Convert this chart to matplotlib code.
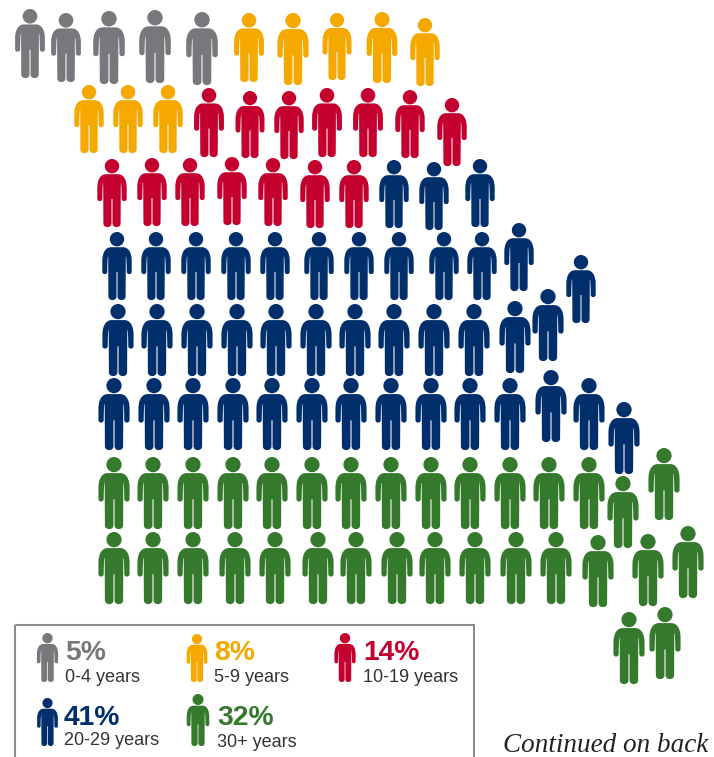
import matplotlib
matplotlib.use("Agg")
import matplotlib.pyplot as plt
from matplotlib.path import Path
from matplotlib.patches import PathPatch, Rectangle
from matplotlib.transforms import Affine2D

# Age groups with their shares
ages = ["0-4 years", "5-9 years", "10-19 years", "20-29 years", "30+ years"]
shares = [5, 8, 14, 41, 32]
colors = ["#77787b", "#f5a800", "#c4002f", "#002f6c", "#357a2c"]

# Figures per group: head centre x, head top y, foot y
gray_x = [30, 66, 109, 155, 202]
gray_top = [9, 13, 11, 10, 12]
gray_bot = [78, 82, 84, 83, 85]

orange_x = [249, 293, 337, 382, 425, 89, 128, 168]
orange_top = [13, 13, 13, 12, 18, 85, 85, 85]
orange_bot = [82, 85, 80, 83, 86, 153, 153, 153]

red_x = [209, 250, 289, 327, 368, 410, 452, 112, 152, 190, 232, 273, 315, 354]
red_top = [88, 91, 91, 88, 88, 90, 98, 159, 158, 158, 157, 158, 160, 160]
red_bot = [157, 158, 159, 157, 157, 158, 166, 227, 226, 226, 225, 226, 228, 228]

navy_x = [394, 434, 480,
          117, 156, 196, 236, 275, 319, 359, 399, 444, 482, 519, 581,
          118, 157, 197, 237, 276, 316, 355, 394, 434, 474, 515, 548,
          114, 154, 193, 233, 272, 312, 351, 391, 431, 470, 510, 551, 589, 624]
navy_top = [160, 162, 159,
            232, 232, 232, 232, 232, 232, 232, 232, 232, 232, 223, 255,
            304, 304, 304, 304, 304, 304, 304, 304, 304, 304, 301, 289,
            378, 378, 378, 378, 378, 378, 378, 378, 378, 378, 378, 370, 378, 402]
navy_bot = [228, 230, 227,
            300, 300, 300, 300, 300, 300, 300, 300, 300, 300, 291, 323,
            376, 376, 376, 376, 376, 376, 376, 376, 376, 376, 373, 361,
            450, 450, 450, 450, 450, 450, 450, 450, 450, 450, 450, 442, 450, 474]

green_x = [114, 153, 193, 233, 272, 312, 351, 391, 431, 470, 510, 549, 589, 623, 664,
           114, 153, 193, 235, 275, 318, 356, 397, 435, 475, 516, 556, 598, 648, 688,
           629, 665]
green_top = [457, 457, 457, 457, 457, 457, 457, 457, 457, 457, 457, 457, 457, 476, 448,
             532, 532, 532, 532, 532, 532, 532, 532, 532, 532, 532, 532, 535, 534, 526,
             612, 607]
green_bot = [529, 529, 529, 529, 529, 529, 529, 529, 529, 529, 529, 529, 529, 548, 520,
             604, 604, 604, 604, 604, 604, 604, 604, 604, 604, 604, 604, 607, 606, 598,
             684, 679]

groups = [
    (gray_x, gray_top, gray_bot),
    (orange_x, orange_top, orange_bot),
    (red_x, red_top, red_bot),
    (navy_x, navy_top, navy_bot),
    (green_x, green_top, green_bot),
]

# Key entries: icon x, icon top, icon foot, text x, share baseline, label baseline
key_icon_x = [47.5, 197, 345, 47.5, 198]
key_icon_top = [633, 634, 633, 698, 694]
key_icon_bot = [682, 682, 682, 746, 746]
key_text_x = [65, 214, 363, 64, 217]
key_share_y = [660, 660, 660, 725, 725]
key_label_y = [682, 682, 682, 745, 747]


def person_path():
    """Standing figure, 68 units tall, y pointing down, head top at y=0."""
    M, L, C, Z = Path.MOVETO, Path.LINETO, Path.CURVE4, Path.CLOSEPOLY
    r = 7.2
    k = 0.5523 * r
    verts = [(0, 0), (k, 0), (r, r - k), (r, r),
             (r, r + k), (k, 2 * r), (0, 2 * r),
             (-k, 2 * r), (-r, r + k), (-r, r),
             (-r, r - k), (-k, 0), (0, 0), (0, 0)]
    codes = [M, C, C, C, C, C, C, C, C, C, C, C, C, Z]

    # Right half of the body, from the neck to the crotch
    neck_y = 15.2
    right = [(L, (6, neck_y)),
             (C, (11, neck_y)), (C, (14.7, 20)), (C, (14.7, 29)),
             (L, (14.7, 39.6)),
             (C, (14.7, 43)), (C, (9.7, 43)), (C, (9.7, 39.6)),
             (C, (9.7, 33)), (C, (9.5, 28)), (C, (9.1, 24.5)),
             (L, (8.8, 24.5)),
             (L, (8.6, 64.5)),
             (C, (8.6, 69.3)), (C, (0.5, 69.3)), (C, (0.5, 64.5)),
             (L, (0.5, 40))]
    body_v = [(0, neck_y)]
    body_c = [M]
    for code, v in right:
        body_v.append(v)
        body_c.append(code)

    # Mirror the half, reversing direction; curve control points keep their order
    pts = [(0, neck_y)] + [v for _, v in right]
    cds = [M] + [c for c, _ in right]
    i = len(pts) - 1
    body_v.append((-0.5, 40))
    body_c.append(L)
    while i > 0:
        if cds[i] == C:
            body_v += [(-pts[i - 1][0], pts[i - 1][1]),
                       (-pts[i - 2][0], pts[i - 2][1]),
                       (-pts[i - 3][0], pts[i - 3][1])]
            body_c += [C, C, C]
            i -= 3
        else:
            body_v.append((-pts[i - 1][0], pts[i - 1][1]))
            body_c.append(L)
            i -= 1
    body_v.append((0, neck_y))
    body_c.append(Z)
    return Path(verts + body_v, codes + body_c)


PERSON = person_path()

fig = plt.figure(figsize=(7.14, 7.57), dpi=100)
ax = fig.add_axes([0, 0, 1, 1])
ax.set_xlim(0, 714)
ax.set_ylim(757, 0)
ax.axis("off")


def draw_person(x, top, bottom, color):
    s = (bottom - top) / 68.0
    tr = Affine2D().scale(s).translate(x, top) + ax.transData
    ax.add_patch(PathPatch(PERSON, facecolor=color, edgecolor="none", transform=tr))


for (xs, tops, bots), color in zip(groups, colors):
    for x, t, b in zip(xs, tops, bots):
        draw_person(x, t, b, color)

# Key frame runs off the bottom edge
ax.add_patch(Rectangle((15, 625), 459, 150, facecolor="none",
                       edgecolor="#8c8c8c", linewidth=1.5))

for i, color in enumerate(colors):
    draw_person(key_icon_x[i], key_icon_top[i], key_icon_bot[i], color)
    ax.text(key_text_x[i], key_share_y[i], f"{shares[i]}%", color=color,
            family="Liberation Sans", weight="bold", fontsize=20.3, va="baseline")
    ax.text(key_text_x[i], key_label_y[i], ages[i], color="#333333",
            family="Liberation Sans", fontsize=13, va="baseline")

ax.text(708, 752, "Continued on back", color="#222222", family="Liberation Serif",
        style="italic", fontsize=19.5, ha="right", va="baseline")

fig.savefig("out.png", dpi=100)
